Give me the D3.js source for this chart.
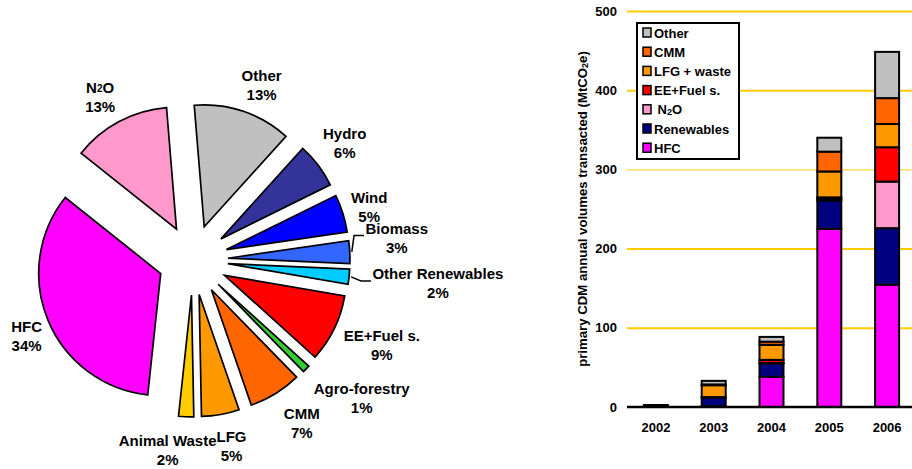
<!DOCTYPE html>
<html><head><meta charset="utf-8">
<script src="https://cdn.jsdelivr.net/npm/d3@7"></script>
<style>
body{margin:0;background:#fff}
svg{display:block}
text{font-family:"Liberation Sans",Arial,Helvetica,sans-serif;font-weight:bold;fill:#000}
</style>
</head><body>
<svg id="chart" width="912" height="469"></svg>
<script>
// ---------- PIE DATA ----------
const pieCategories = ["Other","Hydro","Wind","Biomass","Other Renewables","EE+Fuel s.","Agro-forestry","CMM","LFG","Animal Waste","HFC","N2O"];
const pieShares = [13,6,5,3,2,9,1,7,5,2,34,13];
const pieColors = ["#C0C0C0","#333399","#0000FF","#3366FF","#00CCFF","#FF0000","#33CC33","#FF6600","#FF9900","#FFCC00","#FF00FF","#FF99CC"];

// ---------- BAR DATA ----------
const years = ["2002","2003","2004","2005","2006"];
const seriesNames = ["HFC","Renewables","N2O","EE+Fuel s.","LFG + waste","CMM","Other"];
const hfc        = [0,   1,   38,  225,  154.5];
const renewables = [2.5, 11,  17,  35.7, 71.3];
const n2o        = [0,   0,   0.5, 1.5,  58.8];
const eeFuel     = [0,   0.5, 4,   2.5,  43.4];
const lfgWaste   = [0,   15,  19,  32.7, 29.3];
const cmm        = [0,   1,   4,   25,   32.7];
const other      = [0,   4.5, 6,   17.6, 58.4];
const seriesColors = ["#FF00FF","#000080","#FF99CC","#FF0000","#FF9900","#FF6600","#C0C0C0"];
const yTicks = [0,100,200,300,400,500];
const yTitle = "primary CDM annual volumes transacted (MtCO2e)";

// ---------- helpers ----------
const svg = d3.select("#chart");
const deg = Math.PI/180;

// write text with "2" in chemical formulas as subscript
function richText(sel, str, subShift, subSize){
  const parts = str.split(/(?<=[A-Z])2/);
  parts.forEach((p,i)=>{
    if(i>0){
      sel.append("tspan").attr("dy",subShift).attr("font-size",subSize).text("2");
      sel.append("tspan").attr("dy",-subShift).text(p);
    } else sel.append("tspan").text(p);
  });
}

// ---------- PIE ----------
const pieCx = 193, pieCy = 260, pieR = 122, explode = 35;
const pieStart = -4.7*deg;
// label layout (angle offset from slice middle in degrees, distance from pie centre)
const labelLayout = {
  "Other":[2.7,188], "Hydro":[-0.7,192], "Wind":[0.5,184], "Biomass":[-3.3,205],
  "Other Renewables":[-0.7,246], "EE+Fuel s.":[-1.7,207], "Agro-forestry":[-4.6,218],
  "CMM":[-2.1,195.5], "LFG":[-1.6,190], "Animal Waste":[5.1,191.7], "HFC":[-1.9,183], "N2O":[-1.5,188]
};
const leaderLabels = ["Biomass","Other Renewables"];

const pie = d3.pie().sort(null).value(d=>d.v).startAngle(pieStart).endAngle(pieStart+2*Math.PI);
const arcs = pie(pieCategories.map((c,i)=>({c, v:pieShares[i], color:pieColors[i]})));
const arc = d3.arc().innerRadius(0).outerRadius(pieR);
const gPie = svg.append("g").attr("transform",`translate(${pieCx},${pieCy})`);
const mid = d=>(d.startAngle+d.endAngle)/2;

gPie.selectAll("path.slice").data(arcs).join("path")
  .attr("class","slice")
  .attr("transform",d=>`translate(${explode*Math.sin(mid(d))},${-explode*Math.cos(mid(d))})`)
  .attr("d",arc)
  .attr("fill",d=>d.data.color)
  .attr("stroke","#000").attr("stroke-width",1.7).attr("stroke-linejoin","miter");

const lineGap = 19.5;
arcs.forEach(d=>{
  const lay = labelLayout[d.data.c];
  const a = mid(d) + lay[0]*deg, r = lay[1];
  const lx = r*Math.sin(a), ly = -r*Math.cos(a);
  const t1 = gPie.append("text").attr("x",lx).attr("y",ly-lineGap/2)
    .attr("text-anchor","middle").attr("dominant-baseline","central").attr("font-size",15);
  richText(t1, d.data.c, 1, 10);
  gPie.append("text").attr("x",lx).attr("y",ly+lineGap/2)
    .attr("text-anchor","middle").attr("dominant-baseline","central").attr("font-size",15)
    .text(d.data.v+"%");
  if(leaderLabels.includes(d.data.c)){
    const w = t1.node().getComputedTextLength();
    const left = lx - w/2;
    const m = mid(d), rr = explode+pieR+2;
    const p0 = [rr*Math.sin(m), -rr*Math.cos(m)];
    const yL = ly - lineGap/2 + 7.5;
    gPie.append("path")
      .attr("d", d3.line()([p0,[left-11.5,yL],[left-1.5,yL]]))
      .attr("fill","none").attr("stroke","#000").attr("stroke-width",1.5);
  }
});

// ---------- BAR CHART ----------
const x = d3.scaleBand().domain(years).range([627,916]).paddingInner(0.585).paddingOuter(0.2925);
const y = d3.scaleLinear().domain([0,500]).range([407,11]);

// gridlines
svg.append("g").attr("transform","translate(627,0)")
  .call(d3.axisLeft(y).tickValues(yTicks.filter(v=>v>0)).tickSize(-285).tickFormat(""))
  .call(g=>g.select(".domain").remove())
  .call(g=>g.selectAll(".tick line").attr("stroke","#FFCC00").attr("stroke-width",v=>v===300?1:2));

// y tick labels
svg.append("g").attr("transform","translate(627,0)")
  .call(d3.axisLeft(y).tickValues(yTicks).tickSize(0).tickPadding(10).tickFormat(d3.format("d")))
  .call(g=>g.select(".domain").remove())
  .call(g=>g.selectAll("text").attr("font-size",13).attr("font-family",null).attr("fill","#000"));

// stacked bars
const seriesArrays = [hfc,renewables,n2o,eeFuel,lfgWaste,cmm,other];
const table = years.map((yr,i)=>{
  const o = {year:yr};
  seriesNames.forEach((s,k)=>o[s]=seriesArrays[k][i]);
  return o;
});
const stacked = d3.stack().keys(seriesNames)(table);
const gBars = svg.append("g");
stacked.forEach((layer,k)=>{
  gBars.selectAll(null).data(layer.filter(d=>d[1]-d[0]>0)).join("rect")
    .attr("x",d=>x(d.data.year))
    .attr("width",x.bandwidth())
    .attr("y",d=>y(d[1]))
    .attr("height",d=>y(d[0])-y(d[1]))
    .attr("fill",seriesColors[k])
    .attr("stroke","#000").attr("stroke-width",2);
});

// baseline
svg.append("line").attr("x1",627).attr("x2",912).attr("y1",y(0)).attr("y2",y(0))
  .attr("stroke","#000").attr("stroke-width",2.5);

// x axis labels
svg.append("g").attr("transform",`translate(0,${y(0)})`)
  .call(d3.axisBottom(x).tickSize(0).tickPadding(15.5))
  .call(g=>g.select(".domain").remove())
  .call(g=>g.selectAll("text").attr("font-size",13).attr("font-family",null).attr("fill","#000"));

// y title
const yt = svg.append("text")
  .attr("transform","translate(582,209) rotate(-90)")
  .attr("text-anchor","middle").attr("dominant-baseline","central").attr("font-size",13.2);
richText(yt, yTitle, 3, 9);

// legend
const lg = svg.append("g");
lg.append("rect").attr("x",637).attr("y",23).attr("width",102).attr("height",136)
  .attr("fill","#fff").attr("stroke","#000").attr("stroke-width",2);
const legendOrder = seriesNames.map((s,k)=>({s,color:seriesColors[k]})).reverse();
legendOrder.forEach((d,i)=>{
  const cy = 32.5 + i*19.2;
  lg.append("rect").attr("x",643).attr("y",cy-4.5).attr("width",8).attr("height",9)
    .attr("fill",d.color).attr("stroke","#000").attr("stroke-width",1.5);
  const t = lg.append("text").attr("x",d.s==="N2O"?657.5:654).attr("y",cy)
    .attr("dominant-baseline","central").attr("font-size",13);
  richText(t, d.s, 3, 9);
});
</script>
</body></html>
